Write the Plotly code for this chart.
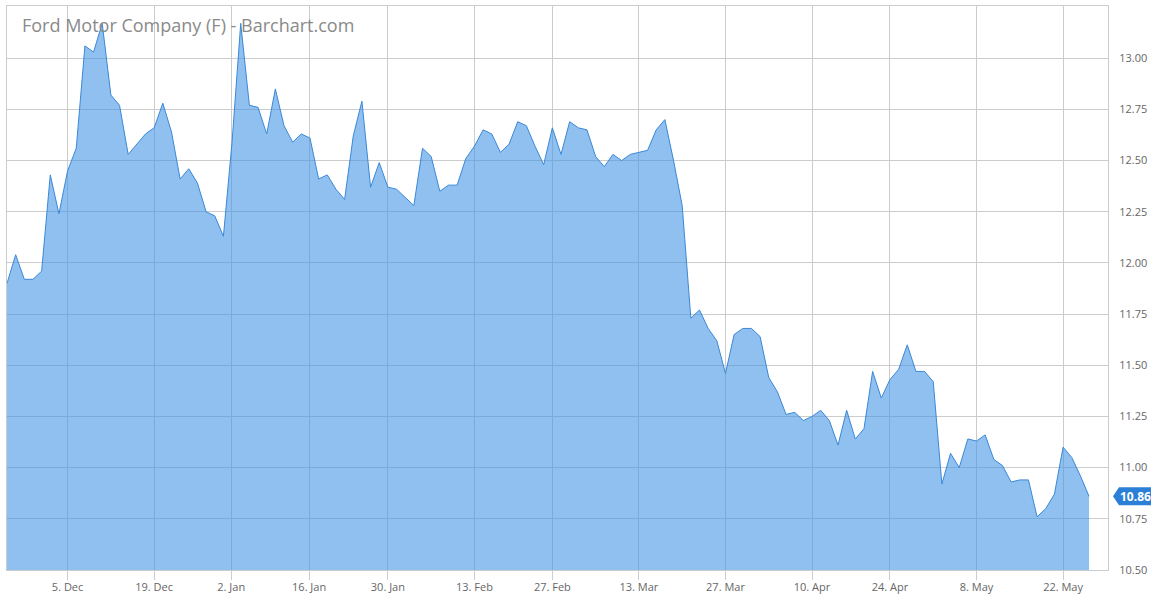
import pandas as pd
import plotly.graph_objects as go
from pandas.tseries.offsets import CustomBusinessDay

# ---- data -------------------------------------------------------------
first_trading_day = "2016-11-23"
market_holidays = ["2016-11-24", "2016-12-26", "2017-01-02", "2017-01-16",
                   "2017-02-20", "2017-04-14"]

close = [
    11.90, 12.04, 11.92, 11.92, 11.96, 12.43, 12.24, 12.45, 12.56, 13.06,
    13.03, 13.17, 12.82, 12.77, 12.53, 12.58, 12.63, 12.66, 12.78, 12.64,
    12.41, 12.46, 12.39, 12.25, 12.23, 12.13, 12.59, 13.17, 12.77, 12.76,
    12.63, 12.85, 12.67, 12.59, 12.63, 12.61, 12.41, 12.43, 12.36, 12.31,
    12.62, 12.79, 12.37, 12.49, 12.37, 12.36, 12.32, 12.28, 12.56, 12.52,
    12.35, 12.38, 12.38, 12.51, 12.57, 12.65, 12.63, 12.54, 12.58, 12.69,
    12.67, 12.57, 12.48, 12.66, 12.53, 12.69, 12.66, 12.65, 12.52, 12.47,
    12.53, 12.50, 12.53, 12.54, 12.55, 12.65, 12.70, 12.50, 12.28, 11.73,
    11.77, 11.68, 11.62, 11.46, 11.65, 11.68, 11.68, 11.64, 11.44, 11.37,
    11.26, 11.27, 11.23, 11.25, 11.28, 11.23, 11.11, 11.28, 11.14, 11.19,
    11.47, 11.34, 11.43, 11.48, 11.60, 11.47, 11.47, 11.42, 10.92, 11.07,
    11.00, 11.14, 11.13, 11.16, 11.04, 11.01, 10.93, 10.94, 10.94, 10.76,
    10.80, 10.87, 11.10, 11.05, 10.96, 10.86,
]

tick_dates = ["2016-12-05", "2016-12-19", "2017-01-02", "2017-01-16",
              "2017-01-30", "2017-02-13", "2017-02-27", "2017-03-13",
              "2017-03-27", "2017-04-10", "2017-04-24", "2017-05-08",
              "2017-05-22"]
tick_text = ["5. Dec", "19. Dec", "2. Jan", "16. Jan", "30. Jan", "13. Feb",
             "27. Feb", "13. Mar", "27. Mar", "10. Apr", "24. Apr", "8. May",
             "22. May"]

y_ticks = [10.50, 10.75, 11.00, 11.25, 11.50, 11.75, 12.00, 12.25, 12.50,
           12.75, 13.00]
y_range = [10.50, 13.255]
title_text = "Ford Motor Company (F) - Barchart.com"

# ---- ordinal (trading-day) x positions --------------------------------
dates = pd.date_range(first_trading_day, periods=len(close),
                      freq=CustomBusinessDay(holidays=market_holidays))
x_idx = list(range(len(close)))
tick_pos = []
for d in pd.to_datetime(tick_dates):
    p = int(dates.searchsorted(d))
    tick_pos.append(p if dates[p] == d else p - 0.1)

GRID = "#cccccc"
LABEL = "#666666"
FONT = "Open Sans"

fig = go.Figure()
fig.add_trace(go.Scatter(
    x=x_idx, y=close, mode="lines", fill="tozeroy",
    line=dict(color="#3a88d6", width=1),
    fillcolor="rgba(62,146,228,0.58)",
    customdata=[d.strftime("%Y-%m-%d") for d in dates],
    hovertemplate="%{customdata}: %{y:.2f}<extra></extra>",
    showlegend=False,
))

fig.update_layout(
    width=1153, height=602,
    margin=dict(l=7, r=45, t=6, b=32),
    paper_bgcolor="white", plot_bgcolor="white",
    font=dict(family=FONT, color=LABEL, size=11),
    title=dict(text=title_text, x=22 / 1153, xanchor="left",
               y=1 - 25.5 / 602, yanchor="middle",
               font=dict(family=FONT, size=18, color="#8a8a8a")),
    xaxis=dict(
        range=[0, 127.19], tickvals=tick_pos, ticktext=tick_text,
        showgrid=True, gridcolor=GRID, gridwidth=1,
        ticks="outside", ticklen=9, tickcolor=GRID,
        showline=True, linecolor=GRID, mirror=True,
        zeroline=False, ticklabelstandoff=-2,
        tickfont=dict(size=11, color=LABEL),
    ),
    yaxis=dict(
        side="right", range=y_range, tickvals=y_ticks,
        tickformat=".2f", showgrid=True, gridcolor=GRID, gridwidth=1,
        ticks="", showline=True, linecolor=GRID, mirror=True,
        zeroline=False, ticklabelstandoff=8,
        tickfont=dict(size=11, color=LABEL),
    ),
)

# last value flag
last = close[-1]
y_paper = (last - y_range[0]) / (y_range[1] - y_range[0])
fig.add_shape(
    type="path", xref="paper", yref="paper",
    xsizemode="pixel", ysizemode="pixel", xanchor=1, yanchor=y_paper,
    path="M 5,0 L 11,9 L 43,9 L 43,-9 L 11,-9 Z",
    fillcolor="#2b7fd6", line=dict(width=0), layer="above",
)
fig.add_annotation(
    x=1, xref="paper", y=last, yref="y", xshift=27, xanchor="center",
    text=f"<b>{last:.2f}</b>", showarrow=False,
    font=dict(family=FONT, size=12, color="white"),
)

fig.write_html(
    "out.html",
    config={"displayModeBar": False},
    post_script="document.body.style.margin='0';document.body.style.overflow='hidden';",
)
